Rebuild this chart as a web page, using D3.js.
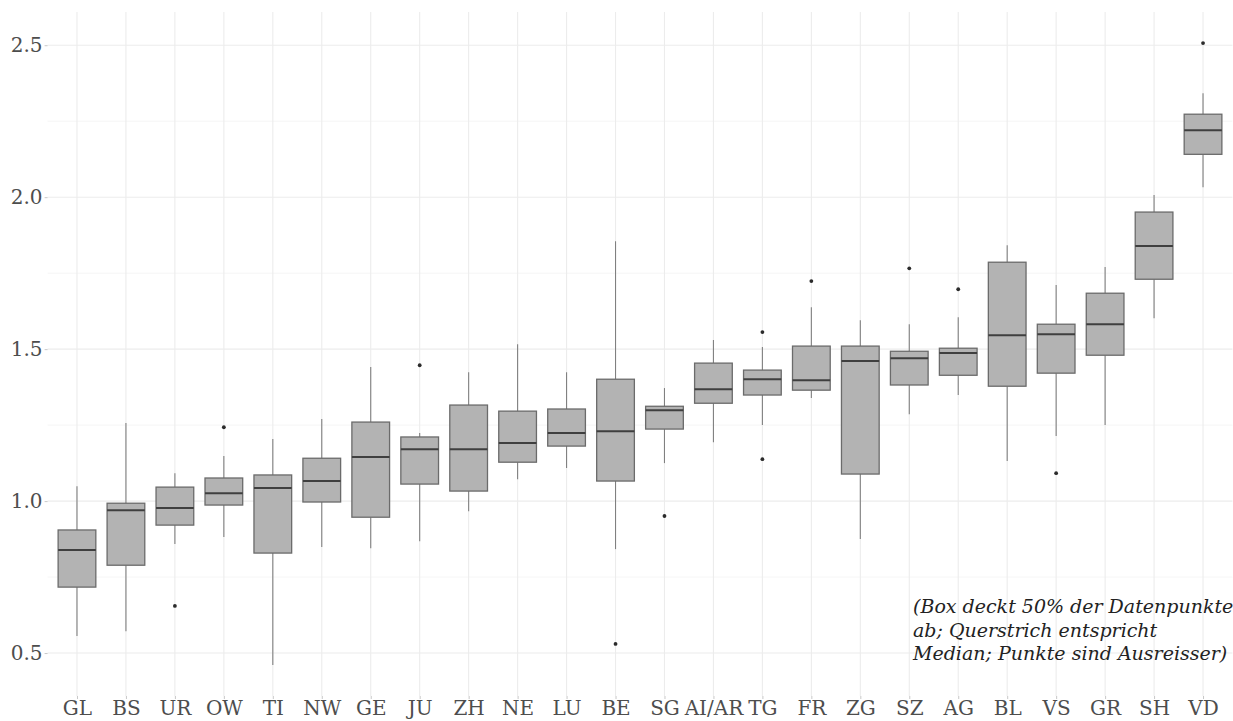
<!doctype html>
<meta charset="utf-8">
<style>
  body { margin: 0; background: #fff; }
  text { font-family: Georgia, "DejaVu Serif", serif; }
</style>
<body>

<div id="chart"></div>

<script src="https://d3js.org/d3.v7.min.js"></script>
<script>

// Kantone, sortiert nach Median
const cantons = ["GL", "BS", "UR", "OW", "TI", "NW", "GE", "JU", "ZH", "NE", "LU", "BE",
  "SG", "AI/AR", "TG", "FR", "ZG", "SZ", "AG", "BL", "VS", "GR", "SH", "VD"]

const whiskerLow = [0.556, 0.572, 0.859, 0.882, 0.461, 0.849, 0.845, 0.868, 0.967, 1.072, 1.109, 0.842,
  1.125, 1.194, 1.250, 1.339, 0.875, 1.286, 1.349, 1.132, 1.214, 1.250, 1.602, 2.033]
const q1 = [0.717, 0.789, 0.921, 0.987, 0.829, 0.997, 0.947, 1.056, 1.033, 1.128, 1.181, 1.066,
  1.237, 1.322, 1.349, 1.365, 1.089, 1.382, 1.414, 1.378, 1.421, 1.480, 1.730, 2.141]
const median = [0.839, 0.970, 0.977, 1.026, 1.043, 1.066, 1.145, 1.171, 1.171, 1.191, 1.224, 1.230,
  1.299, 1.368, 1.401, 1.398, 1.461, 1.470, 1.487, 1.546, 1.549, 1.582, 1.839, 2.220]
const q3 = [0.905, 0.993, 1.046, 1.076, 1.086, 1.141, 1.260, 1.211, 1.316, 1.296, 1.303, 1.401,
  1.312, 1.454, 1.431, 1.510, 1.510, 1.493, 1.503, 1.786, 1.582, 1.684, 1.951, 2.273]
const whiskerHigh = [1.049, 1.257, 1.092, 1.148, 1.204, 1.270, 1.441, 1.224, 1.424, 1.516, 1.424, 1.855,
  1.372, 1.530, 1.507, 1.638, 1.595, 1.582, 1.605, 1.842, 1.711, 1.770, 2.007, 2.342]

// Ausreisser
const outlierCanton = ["UR", "OW", "JU", "BE", "SG", "TG", "TG", "FR", "SZ", "AG", "VS", "VD"]
const outlierValue = [0.655, 1.243, 1.447, 0.530, 0.951, 1.556, 1.138, 1.724, 1.766, 1.697, 1.092, 2.507]

const yTicks = [0.5, 1.0, 1.5, 2.0, 2.5]
const yMinor = [0.75, 1.25, 1.75, 2.25]

const note = ["(Box deckt 50% der Datenpunkte", "ab; Querstrich entspricht", "Median; Punkte sind Ausreisser)"]

const width = 1233
const height = 721
const panel = { left: 47.6, right: 1232.4, top: 12, bottom: 696 }

const svg = d3.select("#chart").append("svg")
  .attr("width", width)
  .attr("height", height)

const boxes = cantons.map((c, i) => ({
  canton: c, lo: whiskerLow[i], q1: q1[i], med: median[i], q3: q3[i], hi: whiskerHigh[i]
}))
const outliers = outlierCanton.map((c, i) => ({ canton: c, value: outlierValue[i] }))

const allValues = whiskerLow.concat(whiskerHigh, outlierValue)
const lo = d3.min(allValues)
const hi = d3.max(allValues)
const pad = (hi - lo) * 0.05

const x = d3.scalePoint()
  .domain(cantons)
  .range([panel.left, panel.right])
  .padding(0.6)

const y = d3.scaleLinear()
  .domain([lo - pad, hi + pad])
  .range([panel.bottom, panel.top])

const boxWidth = x.step() * 0.77

// grid
const grid = svg.append("g")
grid.selectAll(".minor").data(yMinor).enter().append("line")
  .attr("x1", panel.left).attr("x2", panel.right)
  .attr("y1", d => y(d)).attr("y2", d => y(d))
  .attr("stroke", "#f3f3f3").attr("stroke-width", 0.8)
grid.selectAll(".major").data(yTicks).enter().append("line")
  .attr("x1", panel.left).attr("x2", panel.right)
  .attr("y1", d => y(d)).attr("y2", d => y(d))
  .attr("stroke", "#ececec").attr("stroke-width", 1.1)
grid.selectAll(".vert").data(cantons).enter().append("line")
  .attr("x1", d => x(d)).attr("x2", d => x(d))
  .attr("y1", panel.top).attr("y2", panel.bottom)
  .attr("stroke", "#ececec").attr("stroke-width", 1.1)

// axes
const yAxis = svg.append("g")
  .attr("transform", "translate(" + panel.left + ",0)")
  .call(d3.axisLeft(y).tickValues(yTicks).tickFormat(d3.format(".1f")).tickSize(3).tickPadding(2))
const xAxis = svg.append("g")
  .attr("transform", "translate(0," + panel.bottom + ")")
  .call(d3.axisBottom(x).tickSize(3).tickPadding(2))

for (const ax of [yAxis, xAxis]) {
  ax.select(".domain").remove()
  ax.selectAll(".tick line").attr("stroke", "#c8c8c8")
  ax.selectAll(".tick text")
    .attr("fill", "#4d4d4d")
    .style("font-size", "20px")
    .style("font-family", "Georgia, 'DejaVu Serif', serif")
}

// boxes
const g = svg.append("g")
  .selectAll("g")
  .data(boxes)
  .enter()
  .append("g")

g.append("line")
  .attr("x1", d => x(d.canton)).attr("x2", d => x(d.canton))
  .attr("y1", d => y(d.hi)).attr("y2", d => y(d.q3))
  .attr("stroke", "#808080").attr("stroke-width", 1.1)
g.append("line")
  .attr("x1", d => x(d.canton)).attr("x2", d => x(d.canton))
  .attr("y1", d => y(d.q1)).attr("y2", d => y(d.lo))
  .attr("stroke", "#808080").attr("stroke-width", 1.1)
g.append("rect")
  .attr("x", d => x(d.canton) - boxWidth / 2)
  .attr("width", boxWidth)
  .attr("y", d => y(d.q3))
  .attr("height", d => y(d.q1) - y(d.q3))
  .attr("fill", "#b3b3b3")
  .attr("stroke", "#6b6b6b")
  .attr("stroke-width", 1.3)
g.append("line")
  .attr("x1", d => x(d.canton) - boxWidth / 2).attr("x2", d => x(d.canton) + boxWidth / 2)
  .attr("y1", d => y(d.med)).attr("y2", d => y(d.med))
  .attr("stroke", "#3f3f3f").attr("stroke-width", 2)

svg.append("g")
  .selectAll("circle")
  .data(outliers)
  .enter()
  .append("circle")
  .attr("cx", d => x(d.canton))
  .attr("cy", d => y(d.value))
  .attr("r", 1.9)
  .attr("fill", "#2b2b2b")

// Hinweis
svg.append("text")
  .attr("x", 913)
  .attr("y", 613)
  .attr("fill", "#222")
  .style("font-style", "italic")
  .style("font-size", "19px")
  .selectAll("tspan")
  .data(note)
  .enter()
  .append("tspan")
  .attr("x", 913)
  .attr("dy", (d, i) => i === 0 ? 0 : 23.5)
  .text(d => d)

</script>
</body>
